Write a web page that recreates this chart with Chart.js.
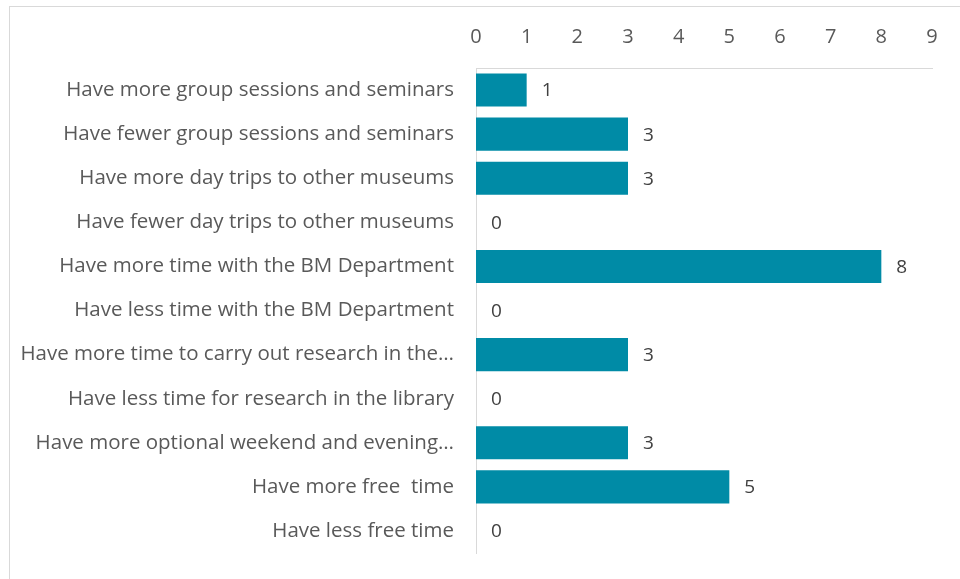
<!DOCTYPE html>
<html>
<head>
<meta charset="utf-8">
<script src="https://cdn.jsdelivr.net/npm/chart.js@4/dist/chart.umd.min.js"></script>
<style>
  html, body { margin: 0; padding: 0; background: #fff; overflow: hidden; }
  #wrap { position: relative; width: 960px; height: 579px; }
  #myChart { display: block; }
  #frame {
    position: absolute; left: 9px; top: 6px; width: 1000px; height: 600px;
    border: 1px solid #d9d9d9; pointer-events: none;
  }
</style>
</head>
<body>
<div id="wrap">
  <canvas id="myChart" width="960" height="579"></canvas>
  <div id="frame"></div>
</div>
<script>
const categories = [
  "Have more group sessions and seminars",
  "Have fewer group sessions and seminars",
  "Have more day trips to other museums",
  "Have fewer day trips to other museums",
  "Have more time with the BM Department",
  "Have less time with the BM Department",
  "Have more time to carry out research in the\u2026",
  "Have less time for research in the library",
  "Have more optional weekend and evening\u2026",
  "Have more free  time",
  "Have less free time",
];
const counts = [1, 3, 3, 0, 8, 0, 3, 0, 3, 5, 0];
const axisMin = 0;
const axisMax = 9;

const fontFamily = "'Open Sans', 'Noto Sans', sans-serif";

// value labels to the right of each bar
const valueLabels = {
  id: "valueLabels",
  afterDatasetsDraw: (chart) => {
    const ctx = chart.ctx;
    const meta = chart.getDatasetMeta(0);
    ctx.save();
    ctx.font = "19px " + fontFamily;
    ctx.fillStyle = "#404040";
    ctx.textAlign = "left";
    ctx.textBaseline = "middle";
    meta.data.forEach((bar, i) => {
      ctx.fillText(String(counts[i]), bar.x + 15, bar.y + 1);
    });
    ctx.restore();
  },
};

const ctx = document.getElementById("myChart").getContext("2d");
const myChart = new Chart(ctx, {
  type: "bar",
  data: {
    labels: categories,
    datasets: [
      {
        data: counts,
        backgroundColor: "#008ba6",
        borderWidth: 0,
        barPercentage: 0.75,
        categoryPercentage: 1,
      },
    ],
  },
  options: {
    indexAxis: "y",
    responsive: false,
    maintainAspectRatio: false,
    animation: false,
    layout: {
      padding: { left: 0, right: 28, top: 0, bottom: 26 },
    },
    plugins: {
      legend: { display: false },
      tooltip: { enabled: false },
    },
    scales: {
      x: {
        position: "top",
        min: axisMin,
        max: axisMax,
        ticks: {
          stepSize: 1,
          padding: 19,
          color: "#595959",
          font: { family: fontFamily, size: 20 },
        },
        grid: { display: false, drawTicks: false },
        border: { display: true, color: "#d9d9d9", width: 1 },
        afterFit: (scale) => {
          scale.height = 68;
        },
      },
      y: {
        ticks: {
          padding: 22,
          color: "#595959",
          font: { family: fontFamily, size: 20.5 },
        },
        grid: { display: false, drawTicks: false },
        border: { display: true, color: "#d9d9d9", width: 1 },
        afterFit: (scale) => {
          scale.width = 476;
          // tick padding would otherwise be added below the plot area
          scale.paddingTop = 0;
          scale.paddingBottom = 0;
        },
      },
    },
  },
  plugins: [valueLabels],
});
</script>
</body>
</html>
